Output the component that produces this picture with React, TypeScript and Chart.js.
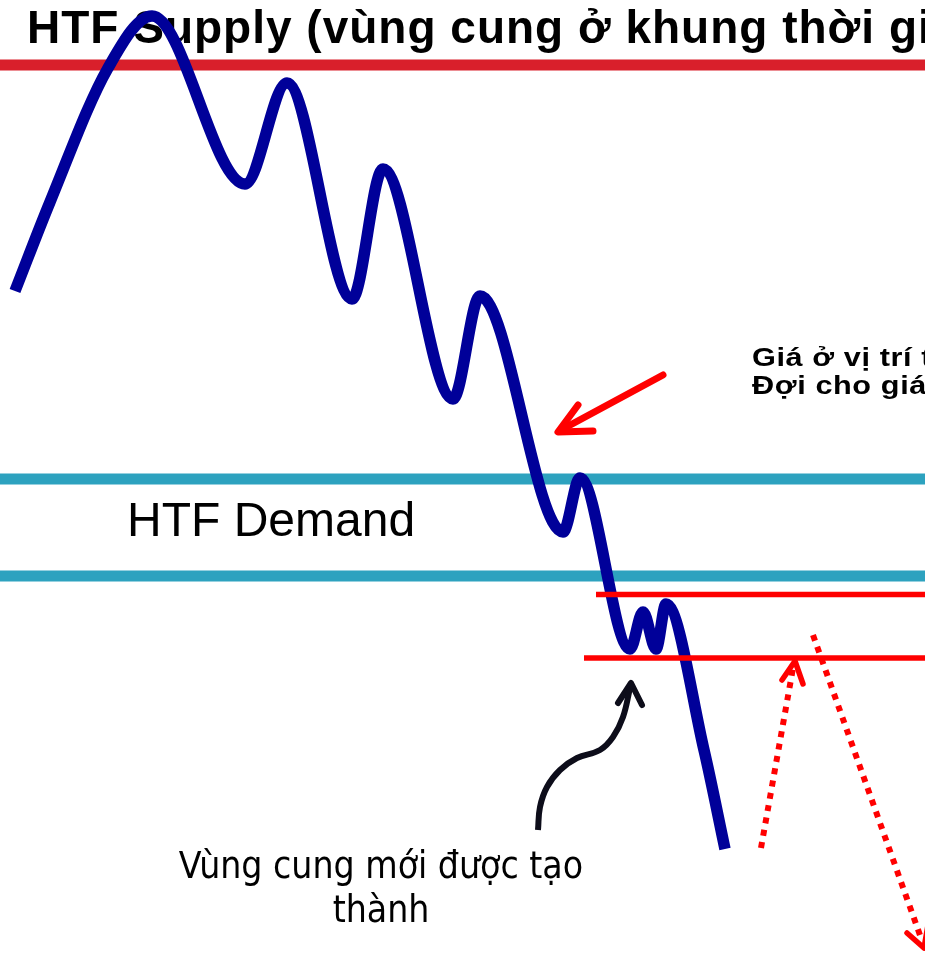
import React, { useEffect, useRef } from "react";
import { Chart, registerables } from "chart.js";

Chart.register(...registerables);

// ---- Data (diagram coordinates) ----
const priceX = [15, 50, 108, 152, 245, 287, 352, 383, 453, 480, 563, 580, 630, 643, 656, 666, 704, 725];
const priceY = [291, 202, 68, 16, 184, 83, 299, 169, 399, 296, 532, 478, 649, 612, 649, 604, 750, 849];

const htfSupplyLevel = 65;
const htfDemandTop = 479;
const htfDemandBottom = 576;
const newSupplyTop = 594.5;
const newSupplyBottom = 658;
const newSupplyTopStart = 596;
const newSupplyBottomStart = 584;
const axisMaxX = 925;
const axisMaxY = 954;

const pointerShaftX = [663, 561];
const pointerShaftY = [375, 430];
const pointerHeadX = [578, 558, 593];
const pointerHeadY = [405, 432, 431];

const calloutX = [538, 540, 547, 560, 577, 600, 613, 623, 630];
const calloutY = [830, 807, 787, 770, 758, 750, 737, 717, 688];
const calloutHeadX = [618, 631, 642];
const calloutHeadY = [703, 683, 705];

const retraceUpX = [761, 793];
const retraceUpY = [848, 668];
const retraceUpHeadX = [782, 795, 803];
const retraceUpHeadY = [680, 661, 684];

const dropX = [813, 921];
const dropY = [635, 938];
const dropHeadX = [907, 924, 928];
const dropHeadY = [933, 948, 925];

const titleText = "HTF Supply (vùng cung ở khung thời gian lớn)";
const demandLabel = "HTF Demand";
const noteLines = ["Giá ở vị trí thuận lợi để bán", "Đợi cho giá hồi về vùng cung"];
const calloutLines = ["Vùng cung mới được tạo", "thành"];

const pts = (xs: number[], ys: number[]) => xs.map((x, i) => ({ x, y: ys[i] }));
const hline = (x0: number, x1: number, y: number) => [{ x: x0, y }, { x: x1, y }];

const textPlugin = {
  id: "diagramText",
  beforeDatasetsDraw(chart: any) {
    const { ctx } = chart;
    const sx = chart.scales.x;
    const sy = chart.scales.y;
    ctx.save();
    ctx.fillStyle = "#000000";
    ctx.textBaseline = "alphabetic";
    ctx.textAlign = "left";
    ctx.font = "bold 46px 'Liberation Sans', Arial, sans-serif";
    (ctx as any).letterSpacing = "1px";
    ctx.fillText(titleText, sx.getPixelForValue(27), sy.getPixelForValue(43));
    (ctx as any).letterSpacing = "0px";
    ctx.restore();
  },
  afterDatasetsDraw(chart: any) {
    const { ctx } = chart;
    const sx = chart.scales.x;
    const sy = chart.scales.y;
    ctx.save();
    ctx.fillStyle = "#000000";
    ctx.textBaseline = "alphabetic";
    ctx.textAlign = "left";
    ctx.font = "48px 'Liberation Sans', Arial, sans-serif";
    ctx.fillText(demandLabel, sx.getPixelForValue(127), sy.getPixelForValue(536));

    // note text (wide lettering)
    ctx.save();
    ctx.font = "bold 26px 'Liberation Sans', Arial, sans-serif";
    (ctx as any).letterSpacing = "0.5px";
    const nx = sx.getPixelForValue(752);
    ctx.translate(nx, 0);
    ctx.scale(1.18, 1);
    ctx.fillText(noteLines[0], 0, sy.getPixelForValue(366));
    ctx.fillText(noteLines[1], 0, sy.getPixelForValue(394));
    (ctx as any).letterSpacing = "0px";
    ctx.restore();

    ctx.textAlign = "center";
    ctx.font = "37px 'DejaVu Sans Condensed', 'DejaVu Sans', sans-serif";
    ctx.fillText(calloutLines[0], sx.getPixelForValue(381), sy.getPixelForValue(878));
    ctx.fillText(calloutLines[1], sx.getPixelForValue(381), sy.getPixelForValue(922));
    ctx.restore();
  },
};

export default function App() {
  const canvasRef = useRef<HTMLCanvasElement | null>(null);

  useEffect(() => {
    if (!canvasRef.current) return;
    const base = { pointRadius: 0, fill: false, tension: 0 } as any;
    const chart = new Chart(canvasRef.current, {
      type: "line",
      data: {
        datasets: [
          { ...base, label: "HTF Supply", data: hline(0, axisMaxX, htfSupplyLevel), borderColor: "#D91F2B", borderWidth: 11, order: 10 },
          { ...base, label: "HTF Demand top", data: hline(0, axisMaxX, htfDemandTop), borderColor: "#2DA2BF", borderWidth: 11, order: 10 },
          { ...base, label: "HTF Demand bottom", data: hline(0, axisMaxX, htfDemandBottom), borderColor: "#2DA2BF", borderWidth: 11, order: 10 },
          { ...base, label: "Price", data: pts(priceX, priceY), borderColor: "#000099", borderWidth: 11.5, cubicInterpolationMode: "monotone", borderCapStyle: "butt", borderJoinStyle: "round", order: 5 },
          { ...base, label: "New supply top", data: hline(newSupplyTopStart, axisMaxX, newSupplyTop), borderColor: "#FF0000", borderWidth: 5.5, order: 3 },
          { ...base, label: "New supply bottom", data: hline(newSupplyBottomStart, axisMaxX, newSupplyBottom), borderColor: "#FF0000", borderWidth: 5.5, order: 3 },
          { ...base, label: "Pointer", data: pts(pointerShaftX, pointerShaftY), borderColor: "#FF0000", borderWidth: 7, borderCapStyle: "round", order: 1 },
          { ...base, label: "Pointer head", data: pts(pointerHeadX, pointerHeadY), borderColor: "#FF0000", borderWidth: 7, borderCapStyle: "round", borderJoinStyle: "round", order: 1 },
          { ...base, label: "Callout", data: pts(calloutX, calloutY), borderColor: "#0d0d1a", borderWidth: 6, tension: 0.4, borderCapStyle: "butt", order: 1 },
          { ...base, label: "Callout head", data: pts(calloutHeadX, calloutHeadY), borderColor: "#0d0d1a", borderWidth: 6, borderCapStyle: "round", borderJoinStyle: "round", order: 1 },
          { ...base, label: "Retrace", data: pts(retraceUpX, retraceUpY), borderColor: "#FF0000", borderWidth: 6, borderDash: [6, 6.5], borderCapStyle: "butt", order: 1 },
          { ...base, label: "Retrace head", data: pts(retraceUpHeadX, retraceUpHeadY), borderColor: "#FF0000", borderWidth: 5.5, borderCapStyle: "round", borderJoinStyle: "round", order: 1 },
          { ...base, label: "Drop", data: pts(dropX, dropY), borderColor: "#FF0000", borderWidth: 6, borderDash: [6, 6.5], borderCapStyle: "butt", order: 1 },
          { ...base, label: "Drop head", data: pts(dropHeadX, dropHeadY), borderColor: "#FF0000", borderWidth: 5.5, borderCapStyle: "round", borderJoinStyle: "round", order: 1 },
        ],
      },
      options: {
        animation: false,
        responsive: false,
        events: [],
        layout: { padding: 0 },
        plugins: { legend: { display: false }, tooltip: { enabled: false }, title: { display: false } },
        scales: {
          x: { type: "linear", min: 0, max: axisMaxX, display: false },
          y: { type: "linear", min: 0, max: axisMaxY, reverse: true, display: false },
        },
      },
      plugins: [textPlugin],
    } as any);
    return () => chart.destroy();
  }, []);

  return (
    <div style={{ position: "absolute", left: 0, top: 0, width: 925, height: 954, background: "#ffffff" }}>
      <canvas ref={canvasRef} width={925} height={954} style={{ display: "block" }} />
    </div>
  );
}
